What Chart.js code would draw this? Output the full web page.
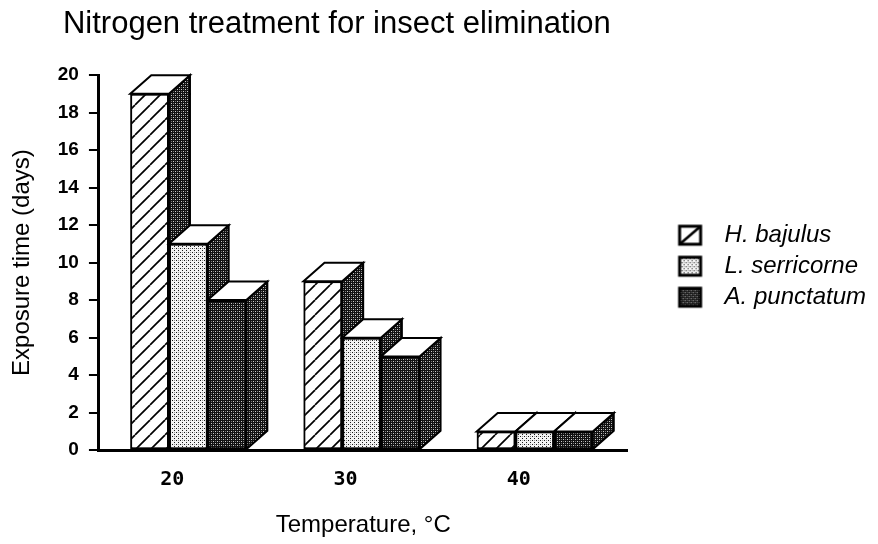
<!DOCTYPE html>
<html>
<head>
<meta charset="utf-8">
<script src="https://cdn.jsdelivr.net/npm/chart.js@4.4.1/dist/chart.umd.min.js"></script>
<style>
  html, body { margin: 0; padding: 0; background: #fff; }
</style>
</head>
<body>
<canvas id="chart" width="878" height="544"></canvas>
<script>
const titleText = "Nitrogen treatment for insect elimination";
const xTitle = "Temperature, °C";
const yTitle = "Exposure time (days)";

const temperatures = [20, 30, 40];
const speciesNames = ["H. bajulus", "L. serricorne", "A. punctatum"];
const hBajulus = [19, 9, 1];
const lSerricorne = [11, 6, 1];
const aPunctatum = [8, 5, 1];
const yTicks = [0, 2, 4, 6, 8, 10, 12, 14, 16, 18, 20];

const canvas = document.getElementById("chart");
const ctx = canvas.getContext("2d");

// small tiles for the fills
function makeTile(w, h, draw) {
    const c = document.createElement("canvas");
    c.width = w;
    c.height = h;
    draw(c.getContext("2d"), w, h);
    return c;
}

const hatchTile = makeTile(15, 15, (g, w, h) => {
    g.fillStyle = "#fff";
    g.fillRect(0, 0, w, h);
    g.strokeStyle = "#000";
    g.lineWidth = 1.7;
    for (const k of [-1, 0, 1]) {
        g.beginPath();
        g.moveTo(k * w, h);
        g.lineTo(k * w + w, 0);
        g.stroke();
    }
});

const lightTile = makeTile(4, 4, (g, w, h) => {
    g.fillStyle = "#f4f4f4";
    g.fillRect(0, 0, w, h);
    g.fillStyle = "#1a1a1a";
    g.fillRect(0, 0, 1, 1);
    g.fillRect(2, 2, 1, 1);
    g.fillStyle = "#9a9a9a";
    g.fillRect(2, 0, 1, 1);
});

const darkTile = makeTile(4, 4, (g, w, h) => {
    g.fillStyle = "#111";
    g.fillRect(0, 0, w, h);
    g.fillStyle = "#cccccc";
    g.fillRect(1, 1, 1, 1);
    g.fillRect(3, 3, 1, 1);
    g.fillStyle = "#777";
    g.fillRect(3, 1, 1, 1);
    g.fillRect(1, 3, 1, 1);
});

const hatchFill = ctx.createPattern(hatchTile, "repeat");
const lightFill = ctx.createPattern(lightTile, "repeat");
const darkFill = ctx.createPattern(darkTile, "repeat");

// legend icons: box sits at the right of a wider transparent image
function legendIcon(tile, slash) {
    const c = document.createElement("canvas");
    c.width = 80;
    c.height = 24;
    const g = c.getContext("2d");
    const bx = 46, by = 3, bw = 21, bh = 18;
    g.fillStyle = tile ? g.createPattern(tile, "repeat") : "#fff";
    g.fillRect(bx, by, bw, bh);
    g.strokeStyle = "#000";
    if (slash) {
        g.lineWidth = 2.5;
        g.beginPath();
        g.moveTo(bx, by + bh);
        g.lineTo(bx + bw, by);
        g.stroke();
    }
    g.lineWidth = 3;
    g.strokeRect(bx, by, bw, bh);
    return c;
}

const icons = [legendIcon(null, true), legendIcon(lightTile, false), legendIcon(darkTile, false)];

const depthX = 21;
const depthY = 18.5;

// redraw bars left to right with their side and top faces
const boxes3d = {
    id: "boxes3d",
    afterDatasetsDraw(chart) {
        const c = chart.ctx;
        chart.data.datasets.forEach((ds, i) => {
            const meta = chart.getDatasetMeta(i);
            meta.data.forEach(bar => {
                const {x, y, base, width} = bar.getProps(["x", "y", "base", "width"], true);
                const l = x - width / 2;
                const r = x + width / 2;
                bar.draw(c);
                c.save();
                c.lineWidth = 2;
                c.strokeStyle = "#000";
                c.lineJoin = "miter";
                c.beginPath();
                c.moveTo(r, y);
                c.lineTo(r + depthX, y - depthY);
                c.lineTo(r + depthX, base - depthY);
                c.lineTo(r, base);
                c.closePath();
                c.fillStyle = darkFill;
                c.fill();
                c.stroke();
                c.beginPath();
                c.moveTo(l, y);
                c.lineTo(l + depthX, y - depthY);
                c.lineTo(r + depthX, y - depthY);
                c.lineTo(r, y);
                c.closePath();
                c.fillStyle = "#fff";
                c.fill();
                c.stroke();
                c.restore();
            });
        });
    }
};

const chartTitle = {
    id: "chartTitle",
    afterDraw(chart) {
        const c = chart.ctx;
        c.save();
        c.font = '31px "Liberation Sans", Arial, sans-serif';
        c.fillStyle = "#000";
        c.textBaseline = "alphabetic";
        c.textAlign = "left";
        c.fillText(titleText, chart.chartArea.left - 36, 33);
        c.restore();
    }
};

Chart.defaults.font.family = '"Liberation Sans", Arial, Helvetica, sans-serif';
Chart.defaults.color = "#000";

const series = [hBajulus, lSerricorne, aPunctatum];
const fills = [hatchFill, lightFill, darkFill];

new Chart(canvas, {
    type: "bar",
    data: {
        datasets: series.map((vals, i) => ({
            label: speciesNames[i],
            data: temperatures.map((t, j) => ({x: t, y: vals[j]})),
            backgroundColor: fills[i],
            borderColor: "#000",
            borderWidth: 2,
            borderSkipped: false,
            categoryPercentage: 0.67,
            barPercentage: 1.0
        }))
    },
    options: {
        responsive: false,
        animation: false,
        layout: {padding: {top: 75, right: 2, bottom: 0, left: 0}},
        scales: {
            x: {
                type: "linear",
                offset: false,
                min: 14.84,
                max: 45.36,
                afterBuildTicks: scale => { scale.ticks = temperatures.map(v => ({value: v})); },
                grid: {display: false, drawTicks: false},
                border: {display: true, color: "#000", width: 3},
                ticks: {
                    padding: 18,
                    labelOffset: -16,
                    font: {family: '"DejaVu Sans Mono", monospace', size: 20, weight: "bold"}
                },
                title: {
                    display: true,
                    text: xTitle,
                    font: {size: 24},
                    padding: {top: 1, bottom: 4}
                }
            },
            y: {
                min: 0,
                max: 20,
                afterBuildTicks: scale => { scale.ticks = yTicks.map(v => ({value: v})); },
                grid: {drawOnChartArea: false, drawTicks: true, tickLength: 10, color: "#000", lineWidth: 2},
                border: {display: true, color: "#000", width: 3},
                ticks: {padding: 10, font: {size: 19, weight: "bold"}},
                title: {
                    display: true,
                    text: yTitle,
                    font: {size: 24},
                    padding: {top: 8, bottom: 11}
                }
            }
        },
        plugins: {
            title: {display: false},
            tooltip: {enabled: false},
            legend: {
                display: true,
                position: "right",
                fullSize: false,
                align: "center",
                maxWidth: 320,
                title: {display: true, text: " ", font: {size: 6}, padding: 0},
                labels: {
                    usePointStyle: true,
                    pointStyleWidth: 78,
                    padding: 7,
                    font: {size: 24, style: "italic"},
                    color: "#000",
                    generateLabels: chart => chart.data.datasets.map((ds, i) => ({
                        text: ds.label,
                        pointStyle: icons[i],
                        datasetIndex: i,
                        fillStyle: "#fff",
                        strokeStyle: "#000",
                        lineWidth: 0,
                        fontColor: "#000",
                        hidden: false
                    }))
                }
            }
        }
    },
    plugins: [boxes3d, chartTitle]
});
</script>
</body>
</html>
